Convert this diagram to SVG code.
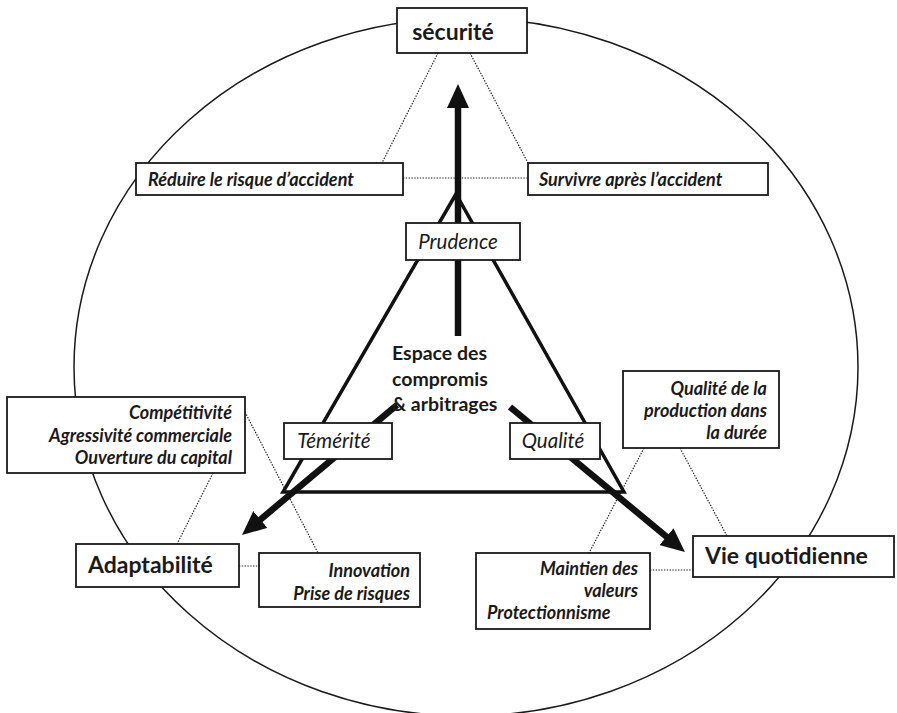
<svg xmlns="http://www.w3.org/2000/svg" width="897" height="713" viewBox="0 0 897 713">
<style>
  .box { fill: #fff; stroke: #1a1a1a; stroke-width: 1.8; }
  .dot { fill: none; stroke: #222; stroke-width: 1.2; stroke-dasharray: 1.4 1.4; }
  .tri { fill: none; stroke: #111; stroke-width: 3.5; stroke-linejoin: miter; }
  .arr { fill: none; stroke: #111; stroke-width: 6.5; }
  .t { font-family: Lato, "Open Sans", "Liberation Sans", sans-serif; fill: #1a1a1a; }
  .big { font-weight: bold; font-size: 23px; }
  .it { font-style: italic; font-size: 20.5px; }
  .bi { font-style: italic; font-weight: bold; font-size: 18px; }
  .ctr { font-weight: bold; font-size: 19.5px; }
</style>
<defs>
  <marker id="head" viewBox="0 0 24 22" markerWidth="24" markerHeight="22" markerUnits="userSpaceOnUse" refX="6" refY="11" orient="auto">
    <path d="M0,0 L24,11 L0,22 z" fill="#111"/>
  </marker>
</defs>
<rect width="897" height="713" fill="#fff"/>
<ellipse cx="466" cy="367" rx="392" ry="349" fill="none" stroke="#1a1a1a" stroke-width="1.5"/>
<g id="connectors">
  <line class="dot" x1="438" y1="53" x2="382" y2="163"/>
  <line class="dot" x1="470" y1="53" x2="528" y2="163"/>
  <line class="dot" x1="403" y1="178" x2="527" y2="178"/>
  <line class="dot" x1="213" y1="473" x2="177" y2="544"/>
  <line class="dot" x1="245" y1="412" x2="318" y2="553"/>
  <line class="dot" x1="239" y1="566" x2="259" y2="566"/>
  <line class="dot" x1="644" y1="448" x2="589" y2="553"/>
  <line class="dot" x1="680" y1="448" x2="727" y2="536"/>
  <line class="dot" x1="650" y1="570" x2="693" y2="570"/>
  <polygon class="tri" points="456,194 283,492 624,492"/>
  <line class="arr" x1="458" y1="336" x2="458" y2="102" marker-end="url(#head)"/>
  <line class="arr" x1="397" y1="405" x2="255.8" y2="523.4" marker-end="url(#head)"/>
  <line class="arr" x1="510" y1="407" x2="671.1" y2="540.5" marker-end="url(#head)"/>
</g>
<g id="securite">
  <rect class="box" x="397" y="8" width="130" height="45"/>
  <text class="t big" x="453" y="40" text-anchor="middle" font-size="28">sécurité</text>
</g>
<g id="reduire">
  <rect class="box" x="136" y="163" width="267" height="32"/>
  <text class="t bi" x="148" y="186">Réduire le risque d’accident</text>
</g>
<g id="survivre">
  <rect class="box" x="528" y="163" width="240" height="32"/>
  <text class="t bi" x="539" y="186">Survivre après l’accident</text>
</g>
<g id="prudence">
  <rect class="box" x="406" y="223" width="114" height="37"/>
  <text class="t it" x="458" y="249" text-anchor="middle">Prudence</text>
</g>
<g id="centre">
  <text class="t ctr" x="392" y="360">Espace des</text>
  <text class="t ctr" x="392" y="386">compromis</text>
  <text class="t ctr" x="392" y="411">&amp; arbitrages</text>
</g>
<g id="temerite">
  <rect class="box" x="284" y="423" width="108" height="36"/>
  <text class="t it" x="334" y="448" text-anchor="middle">Témérité</text>
</g>
<g id="qualite">
  <rect class="box" x="510" y="423" width="90" height="36"/>
  <text class="t it" x="553" y="448" text-anchor="middle">Qualité</text>
</g>
<g id="competitivite">
  <rect class="box" x="7" y="397" width="238" height="76"/>
  <text class="t bi" x="232" y="419" text-anchor="end">Compétitivité</text>
  <text class="t bi" x="232" y="442" text-anchor="end">Agressivité commerciale</text>
  <text class="t bi" x="232" y="464" text-anchor="end">Ouverture du capital</text>
</g>
<g id="adaptabilite">
  <rect class="box" x="76" y="544" width="163" height="43"/>
  <text class="t big" x="88" y="573">Adaptabilité</text>
</g>
<g id="innovation">
  <rect class="box" x="259" y="553" width="161" height="54"/>
  <text class="t bi" x="410" y="577" text-anchor="end">Innovation</text>
  <text class="t bi" x="410" y="600" text-anchor="end">Prise de risques</text>
</g>
<g id="qualite-production">
  <rect class="box" x="623" y="371" width="156" height="77"/>
  <text class="t bi" x="767" y="395" text-anchor="end">Qualité de la</text>
  <text class="t bi" x="767" y="417" text-anchor="end">production dans</text>
  <text class="t bi" x="767" y="439" text-anchor="end">la durée</text>
</g>
<g id="vie-quotidienne">
  <rect class="box" x="693" y="536" width="201" height="41"/>
  <text class="t big" x="705" y="564">Vie quotidienne</text>
</g>
<g id="maintien">
  <rect class="box" x="476" y="553" width="174" height="76"/>
  <text class="t bi" x="638" y="575" text-anchor="end">Maintien des</text>
  <text class="t bi" x="638" y="597" text-anchor="end">valeurs</text>
  <text class="t bi" x="487" y="619">Protectionnisme</text>
</g>
</svg>
